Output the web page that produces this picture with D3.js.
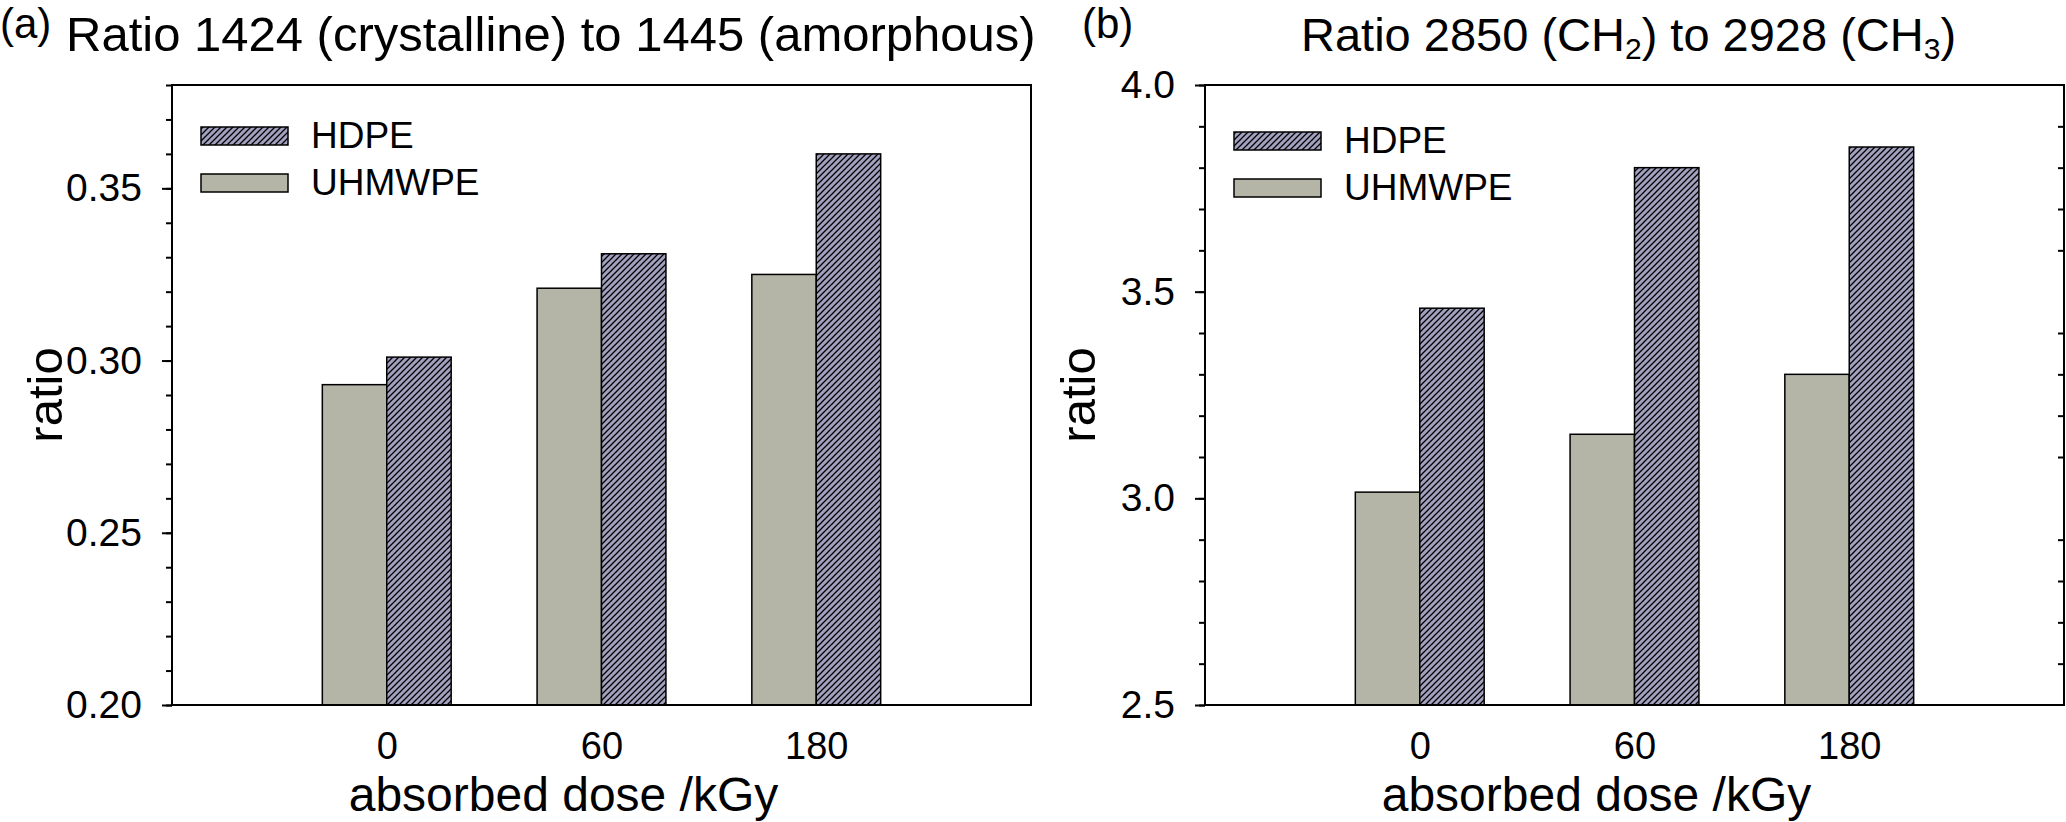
<!DOCTYPE html>
<html lang="en">
  <head>
    <script src="https://d3js.org/d3.v7.min.js"></script>
    <style>
      body { margin: 0; background: #fff; }
      text { font-family: "Liberation Sans", Arial, sans-serif; fill: #000; }
    </style>
  </head>
  <body>
    <script>
      // values
      var doses = ["0", "60", "180"];
      var hdpeA = [0.301, 0.331, 0.36];
      var uhmwpeA = [0.293, 0.321, 0.325];
      var hdpeB = [3.46, 3.8, 3.85];
      var uhmwpeB = [3.015, 3.155, 3.3];
      var ticksA = [0.2, 0.25, 0.3, 0.35];
      var ticksB = [2.5, 3.0, 3.5, 4.0];
      var seriesNames = ["HDPE", "UHMWPE"];

      var width = 2066,
        height = 822;

      var svg = d3
        .select("body")
        .append("svg")
        .attr("width", width)
        .attr("height", height);

      // hatch for the HDPE bars
      var defs = svg.append("defs");
      var pat = defs
        .append("pattern")
        .attr("id", "hatch")
        .attr("patternUnits", "userSpaceOnUse")
        .attr("width", 6)
        .attr("height", 6);
      pat.append("rect").attr("width", 6).attr("height", 6).attr("fill", "#a2a2c0");
      pat
        .append("path")
        .attr("d", "M-1,1 l2,-2 M0,6 l6,-6 M5,7 l2,-2")
        .attr("stroke", "#000")
        .attr("stroke-width", 1.3);

      var fills = ["url(#hatch)", "#b4b4a7"];

      function drawPanel(p) {
        var top = 85,
          bottom = 705,
          w = 859;

        var x = d3.scaleLinear().domain([0, 4]).range([p.left, p.left + w]);
        var y = d3.scaleLinear().domain(p.domain).range([bottom, top]);
        var bw = x(0.3) - x(0);

        var g = svg.append("g");

        // minor ticks
        g.append("g")
          .attr("transform", "translate(" + p.left + ",0)")
          .call(
            d3.axisLeft(y)
              .tickValues(d3.range(p.domain[0], p.domain[1] + p.minor / 2, p.minor))
              .tickSize(6)
              .tickFormat("")
          )
          .call(function (a) {
            a.select(".domain").remove();
            a.selectAll("line").attr("stroke", "#000").attr("stroke-width", 2);
          });

        // major ticks and labels
        g.append("g")
          .attr("transform", "translate(" + p.left + ",0)")
          .call(
            d3.axisLeft(y)
              .tickValues(p.ticks)
              .tickSize(10)
              .tickPadding(20)
              .tickFormat(d3.format(p.fmt))
          )
          .call(function (a) {
            a.select(".domain").remove();
            a.selectAll("line").attr("stroke", "#000").attr("stroke-width", 2);
            a.selectAll("text").style("font-size", "39px").attr("fill", "#000");
          });

        if (p.rightTicks) {
          var minorOnly = d3
            .range(p.domain[0], p.domain[1] + p.minor / 2, p.minor)
            .filter(function (v) {
              return p.ticks.every(function (t) {
                return Math.abs(t - v) > 1e-6;
              });
            });
          g.append("g")
            .attr("transform", "translate(" + (p.left + w) + ",0)")
            .call(d3.axisLeft(y).tickValues(minorOnly).tickSize(6).tickFormat(""))
            .call(function (a) {
              a.select(".domain").remove();
              a.selectAll("line").attr("stroke", "#000").attr("stroke-width", 2);
            });
        }

        // x labels
        g.append("g")
          .attr("transform", "translate(0," + bottom + ")")
          .call(
            d3.axisBottom(x)
              .tickValues([1, 2, 3])
              .tickSize(0)
              .tickPadding(27)
              .tickFormat(function (d) {
                return doses[d - 1];
              })
          )
          .call(function (a) {
            a.select(".domain").remove();
            a.selectAll("text").style("font-size", "38px").attr("fill", "#000");
          });

        // bars
        var data = doses.map(function (d, i) {
          return { pos: i + 1, hdpe: p.hdpe[i], uhmwpe: p.uhmwpe[i] };
        });

        g.selectAll(".u")
          .data(data)
          .join("rect")
          .attr("x", function (d) { return x(d.pos) - bw; })
          .attr("y", function (d) { return y(d.uhmwpe); })
          .attr("width", bw)
          .attr("height", function (d) { return bottom - y(d.uhmwpe); })
          .attr("fill", fills[1])
          .attr("stroke", "#000")
          .attr("stroke-width", 1.5);

        g.selectAll(".h")
          .data(data)
          .join("rect")
          .attr("x", function (d) { return x(d.pos); })
          .attr("y", function (d) { return y(d.hdpe); })
          .attr("width", bw)
          .attr("height", function (d) { return bottom - y(d.hdpe); })
          .attr("fill", fills[0])
          .attr("stroke", "#000")
          .attr("stroke-width", 1.5);

        // frame
        g.append("rect")
          .attr("x", p.left)
          .attr("y", top)
          .attr("width", w)
          .attr("height", bottom - top)
          .attr("fill", "none")
          .attr("stroke", "#000")
          .attr("stroke-width", 2);

        // legend
        seriesNames.forEach(function (name, i) {
          var ly = p.legendY + i * 47;
          g.append("rect")
            .attr("x", p.left + 29)
            .attr("y", ly)
            .attr("width", 87)
            .attr("height", 18)
            .attr("fill", fills[i])
            .attr("stroke", "#000")
            .attr("stroke-width", 1.5);
          g.append("text")
            .attr("x", p.left + 139)
            .attr("y", ly + 21)
            .style("font-size", "37px")
            .text(name);
        });

        // axis titles
        g.append("text")
          .attr("transform", "translate(" + (p.left - 110) + "," + (top + bottom) / 2 + ") rotate(-90)")
          .attr("text-anchor", "middle")
          .style("font-size", "49px")
          .text("ratio");

        g.append("text")
          .attr("x", x(2) - 38)
          .attr("y", 811)
          .attr("text-anchor", "middle")
          .style("font-size", "48px")
          .text("absorbed dose /kGy");

        // panel letter and title
        g.append("text")
          .attr("x", p.letterX)
          .attr("y", 38)
          .style("font-size", "42px")
          .text(p.letter);

        var t = g.append("text")
          .attr("x", p.titleX)
          .attr("y", 51)
          .style("font-size", p.titleSize);
        p.title(t);
      }

      drawPanel({
        left: 172,
        domain: [0.2, 0.38],
        ticks: ticksA,
        minor: 0.01,
        fmt: ".2f",
        hdpe: hdpeA,
        uhmwpe: uhmwpeA,
        legendY: 127,
        rightTicks: false,
        letter: "(a)",
        letterX: 0,
        titleX: 66,
        titleSize: "49px",
        title: function (t) {
          t.text("Ratio 1424 (crystalline) to 1445 (amorphous)");
        }
      });

      drawPanel({
        left: 1205,
        domain: [2.5, 4.0],
        ticks: ticksB,
        minor: 0.1,
        fmt: ".1f",
        hdpe: hdpeB,
        uhmwpe: uhmwpeB,
        legendY: 132,
        rightTicks: true,
        letter: "(b)",
        letterX: 1082,
        titleX: 1301,
        titleSize: "47px",
        title: function (t) {
          t.append("tspan").text("Ratio 2850 (CH");
          t.append("tspan").attr("baseline-shift", "-25%").style("font-size", "30px").text("2");
          t.append("tspan").text(") to 2928 (CH");
          t.append("tspan").attr("baseline-shift", "-25%").style("font-size", "30px").text("3");
          t.append("tspan").text(")");
        }
      });
    </script>
  </body>
</html>
